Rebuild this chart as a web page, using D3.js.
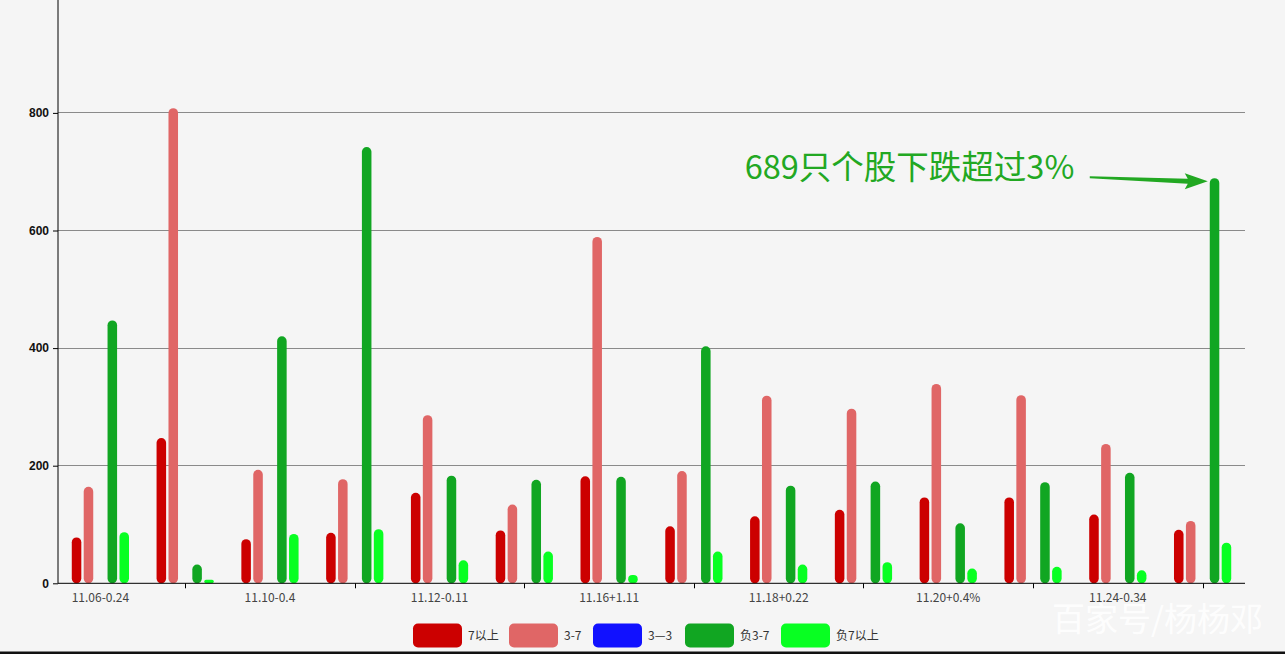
<!DOCTYPE html>
<html><head><meta charset="utf-8">
<script src="https://cdn.jsdelivr.net/npm/d3@7/dist/d3.min.js"></script>
<style>
html,body{margin:0;padding:0;background:#f5f5f5;}
svg{display:block;}
</style></head>
<body>
<svg id="c" width="1285" height="654"></svg>
<script>
const categories = ["11.06-0.24","11.09","11.10-0.4","11.11","11.12-0.11","11.13","11.16+1.11","11.17","11.18+0.22","11.19","11.20+0.4%","11.23","11.24-0.34","11.25"];
const seriesNames = ["7以上","3-7","3—3","负3-7","负7以上"];
const up7   = [78,247,75,86,154,90,182,97,114,125,146,146,117,91];
const up3_7 = [164,808,193,177,286,134,589,191,319,297,339,320,237,106];
const flat  = [0,0,0,0,0,0,0,0,0,0,0,0,0,0];
const dn3_7 = [447,32,420,742,183,176,181,403,166,173,102,172,188,689];
const dn7   = [87,6,84,92,39,54,14,54,32,36,25,28,22,69];
const yTicks = [0,200,400,600,800,1000];
const colors = ["#cc0000","#e06666","#1111ff","#11a622","#08ff22"];
const annotationText = "689只个股下跌超过3%";
const watermark = "百家号/杨杨邓";

const series = [up7, up3_7, flat, dn3_7, dn7];
const svg = d3.select("#c");
svg.append("rect").attr("width",1285).attr("height",654).attr("fill","#f5f5f5");

const left = 58, right = 1245, bottom = 583.3;
const x = d3.scaleBand().domain(categories).range([left, right]).paddingInner(0).paddingOuter(0);
const y = d3.scaleLinear().domain([0,1000]).range([bottom, bottom - 588]);
const inner = d3.scaleBand().domain(d3.range(series.length)).range([-31, 31]).padding(0.2);

// grid
svg.append("g").selectAll("line").data(yTicks.filter(d=>d>0)).join("line")
  .attr("x1",left).attr("x2",right).attr("y1",d=>y(d)).attr("y2",d=>y(d))
  .attr("stroke","#8a8a8a").attr("stroke-width",1).attr("shape-rendering","crispEdges");

// y axis
const yAxis = svg.append("g").attr("transform",`translate(${left},0)`)
  .call(d3.axisLeft(y).tickValues(yTicks).tickSize(5).tickPadding(4).tickFormat(d3.format("d")));
yAxis.select(".domain").attr("stroke","#000").attr("d",`M0,${bottom}V-10`);
yAxis.selectAll(".tick line").attr("stroke","#000");
yAxis.selectAll("text").attr("font-family","'Liberation Sans',Arial,sans-serif").attr("font-size",12).attr("font-weight","bold").attr("fill","#111");

// bars
const bw = inner.bandwidth();
series.forEach((vals, si) => {
  svg.append("g").selectAll("rect").data(vals.map((v,i)=>({v,c:categories[i]}))).join("rect")
    .filter(d=>d.v>0)
    .attr("x", d => x(d.c) + x.bandwidth()/2 + inner(si))
    .attr("width", bw)
    .attr("y", d => y(d.v))
    .attr("height", d => y(0) - y(d.v))
    .attr("rx", d => Math.min(bw/2, (y(0)-y(d.v))/2))
    .attr("fill", colors[si]);
});

// x axis
const xAxis = svg.append("g").attr("transform",`translate(0,${bottom})`);
xAxis.append("line").attr("x1",left).attr("x2",right).attr("y1",0).attr("y2",0).attr("stroke","#000");
xAxis.selectAll("line.tk").data(categories.filter((c,i)=>i%2===1)).join("line").attr("class","tk")
  .attr("x1",d=>Math.round(x(d)+x.bandwidth()/2)+0.5).attr("x2",d=>Math.round(x(d)+x.bandwidth()/2)+0.5)
  .attr("y1",0).attr("y2",5).attr("stroke","#000");
xAxis.selectAll("text").data(categories.filter((c,i)=>i%2===0)).join("text")
  .attr("x",d=>x(d)+x.bandwidth()/2).attr("y",19).attr("text-anchor","middle")
  .attr("font-family","'Noto Sans CJK SC','Noto Sans',sans-serif").attr("font-size",12).attr("fill","#444")
  .text(d=>d);

// legend
const legX = [413, 509, 593, 685, 781];
const lg = svg.append("g");
seriesNames.forEach((n,i)=>{
  lg.append("rect").attr("x",legX[i]).attr("y",623.5).attr("width",49).attr("height",24).attr("rx",5).attr("fill",colors[i]);
  lg.append("text").attr("x",legX[i]+55).attr("y",640).attr("font-family","'Noto Sans CJK SC',sans-serif")
    .attr("font-size",12).attr("fill","#333").text(n);
});

// annotation
const last = categories[categories.length-1];
const tipX = x(last) + x.bandwidth()/2 + inner(3) - 2;
const tipY = y(dn3_7[dn3_7.length-1]) + 3;
svg.append("text").attr("x", tipX - 463).attr("y", tipY - 2)
  .attr("font-family","'Noto Sans CJK SC',sans-serif").attr("font-size",32.5)
  .attr("fill","#22a822").text(annotationText);
const sx = tipX - 118, sy = tipY - 4, hx = tipX - 20;
svg.append("path").attr("fill","#22a822")
  .attr("d",`M${sx},${sy-1}L${hx},${tipY-2.5}L${hx-3},${tipY-8}L${tipX},${tipY}L${hx-3},${tipY+8}L${hx},${tipY+2.5}L${sx},${sy+1}Z`);

// watermark
svg.append("text").attr("x",1052).attr("y",631).attr("font-family","'Noto Sans CJK SC',sans-serif")
  .attr("font-size",33).attr("fill","#ffffff").attr("fill-opacity",0.9).text(watermark);

// bottom border
svg.append("rect").attr("x",0).attr("y",651.5).attr("width",1285).attr("height",2.5).attr("fill","#111");
</script>
</body></html>
